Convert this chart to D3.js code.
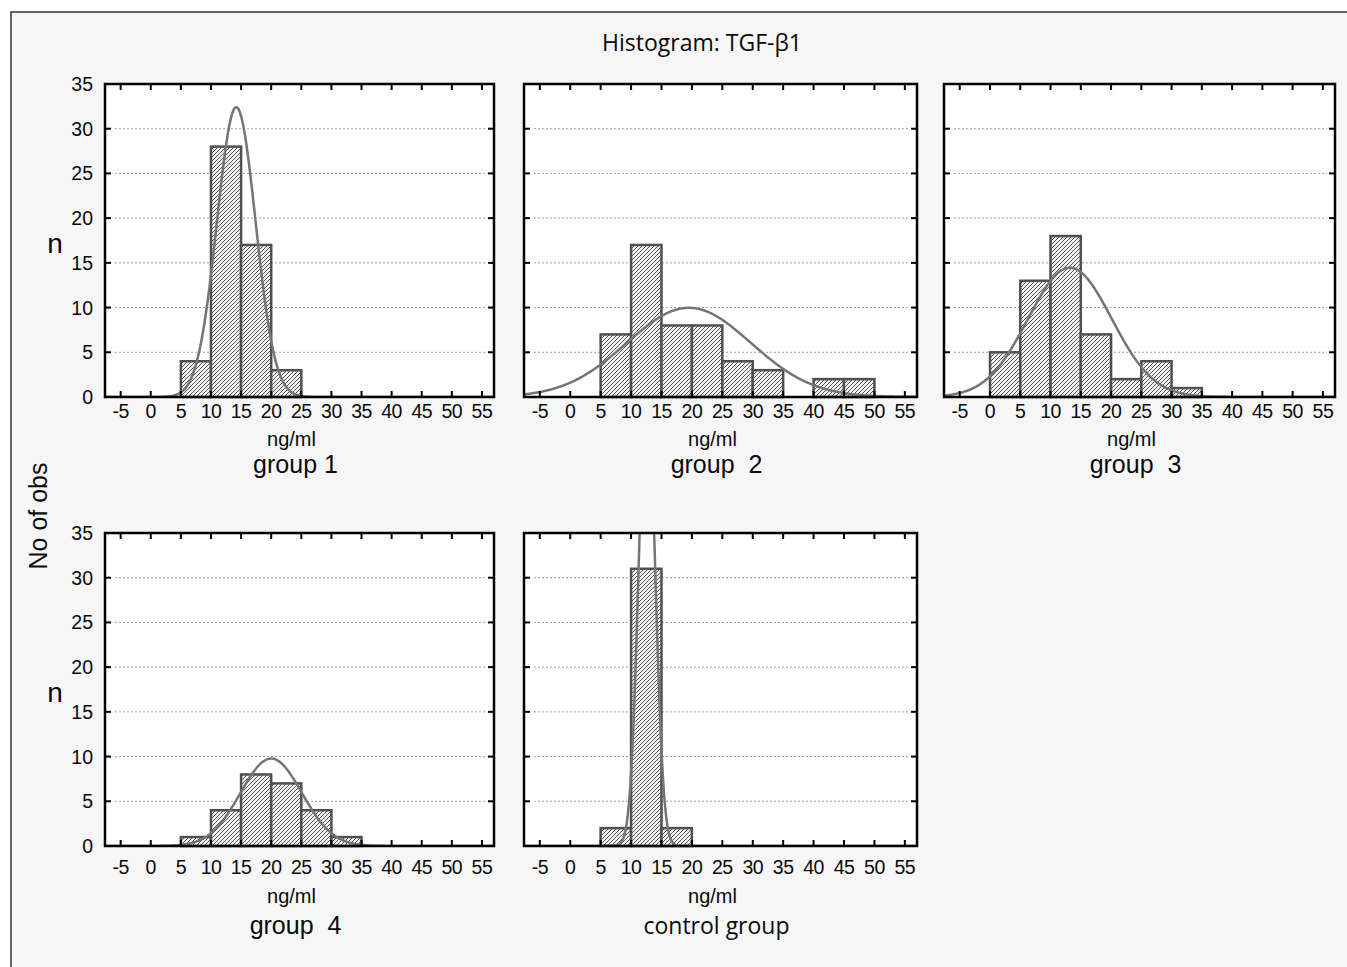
<!DOCTYPE html>
<html>
<head>
<meta charset="utf-8">
<script src="https://cdn.jsdelivr.net/npm/d3@7"></script>
<style>
  body { margin: 0; background: #fff; }
  text { fill: #0a0a0a; }
</style>
</head>
<body>
<svg id="chart" width="1347" height="967"></svg>
<script>
// histogram counts, bins are 5 ng/ml wide (lower edge listed)
const groupNames = ["group 1", "group  2", "group  3", "group  4", "control group"];

const bins1 = [5, 10, 15, 20];
const counts1 = [4, 28, 17, 3];

const bins2 = [5, 10, 15, 20, 25, 30, 40, 45];
const counts2 = [7, 17, 8, 8, 4, 3, 2, 2];

const bins3 = [0, 5, 10, 15, 20, 25, 30];
const counts3 = [5, 13, 18, 7, 2, 4, 1];

const bins4 = [5, 10, 15, 20, 25, 30];
const counts4 = [1, 4, 8, 7, 4, 1];

const binsCtrl = [5, 10, 15];
const countsCtrl = [2, 31, 2];

// fitted normal curve parameters
const fitMean = [14.2, 19.5, 13.2, 20.0, 12.6];
const fitSd = [3.2, 10.2, 6.9, 5.1, 1.35];

const xTicks = [-5, 0, 5, 10, 15, 20, 25, 30, 35, 40, 45, 50, 55];
const yTicks = [0, 5, 10, 15, 20, 25, 30, 35];
const gridValues = [5, 10, 15, 20, 25, 30];

const binWidth = 5;

const allBins = [bins1, bins2, bins3, bins4, binsCtrl];
const allCounts = [counts1, counts2, counts3, counts4, countsCtrl];

// layout
const colX = [105, 524, 944];
const colW = [389, 393, 391];
const rowY = [84, 533];
const ph = 313;
const panelPos = [[0, 0], [1, 0], [2, 0], [0, 1], [1, 1]];
// text offsets below each row (tick labels, unit, group name)
const rowText = [[21, 49, 76], [28, 57, 88]];

const svg = d3.select("#chart");

// figure background + outer frame
svg.append("rect")
    .attr("x", 11).attr("y", 12)
    .attr("width", 1347).attr("height", 967)
    .attr("fill", "#f6f6f6")
    .attr("stroke", "#333")
    .attr("stroke-width", 1.5);

// hatch pattern for bars
const defs = svg.append("defs");
const pat = defs.append("pattern")
    .attr("id", "hatch")
    .attr("patternUnits", "userSpaceOnUse")
    .attr("width", 4)
    .attr("height", 4);
pat.append("rect").attr("width", 4).attr("height", 4).attr("fill", "#f2f2f2");
pat.append("path")
    .attr("d", "M-1,1 l2,-2 M0,4 l4,-4 M3,5 l2,-2")
    .attr("stroke", "#555")
    .attr("stroke-width", 1);

svg.append("text")
    .attr("x", 702).attr("y", 51)
    .attr("text-anchor", "middle")
    .style("font-family", "'Open Sans', sans-serif")
    .style("font-size", "23px")
    .text("Histogram: TGF-\u03b21");

svg.append("text")
    .attr("transform", "translate(47, 516)rotate(-90)")
    .attr("text-anchor", "middle")
    .style("font-family", "'Liberation Sans', Arial, sans-serif")
    .style("font-size", "25px")
    .text("No of obs");

groupNames.forEach(function(name, i) {
    const col = panelPos[i][0], row = panelPos[i][1];
    const left = colX[col], top = rowY[row], pw = colW[col];

    const x = d3.scaleLinear().domain([-7.6, 57]).range([0, pw]);
    const y = d3.scaleLinear().domain([0, 35]).range([ph, 0]);

    const g = svg.append("g")
        .attr("transform", `translate(${left}, ${top})`);

    defs.append("clipPath")
        .attr("id", "clip" + i)
        .append("rect")
        .attr("width", pw).attr("height", ph);

    g.append("rect")
        .attr("width", pw).attr("height", ph)
        .attr("fill", "#fff");

    // dotted grid
    g.selectAll(".grid")
        .data(gridValues)
        .enter().append("line")
        .attr("x1", 10).attr("x2", pw - 8)
        .attr("y1", d => y(d)).attr("y2", d => y(d))
        .attr("stroke", "#a0a0a0")
        .attr("stroke-width", 1)
        .attr("stroke-dasharray", "2,2");

    // bars
    const bars = allBins[i].map((b, k) => ({ x0: b, n: allCounts[i][k] }));
    g.selectAll(".bar")
        .data(bars)
        .enter().append("rect")
        .attr("x", d => x(d.x0))
        .attr("y", d => y(d.n))
        .attr("width", d => x(d.x0 + binWidth) - x(d.x0))
        .attr("height", d => y(0) - y(d.n))
        .attr("fill", "url(#hatch)")
        .attr("stroke", "#505050")
        .attr("stroke-width", 2.5);

    // normal fit, scaled to counts
    const total = d3.sum(allCounts[i]);
    const mu = fitMean[i], sd = fitSd[i];
    const fit = v => total * binWidth / (sd * Math.sqrt(2 * Math.PI)) * Math.exp(-0.5 * ((v - mu) / sd) ** 2);
    const xs = d3.range(-7.6, 57.01, 0.1);
    const line = d3.line()
        .x(v => x(v))
        .y(v => y(fit(v)))
        .curve(d3.curveBasis);
    g.append("path")
        .datum(xs)
        .attr("d", line)
        .attr("fill", "none")
        .attr("stroke", "#757575")
        .attr("stroke-width", 2.5)
        .attr("clip-path", `url(#clip${i})`);

    // inside ticks on every side
    const tl = 6;
    xTicks.forEach(function(t) {
        g.append("line").attr("x1", x(t)).attr("x2", x(t)).attr("y1", 0).attr("y2", tl)
            .attr("stroke", "#000").attr("stroke-width", 2);
        g.append("line").attr("x1", x(t)).attr("x2", x(t)).attr("y1", ph).attr("y2", ph - tl)
            .attr("stroke", "#000").attr("stroke-width", 2);
    });
    yTicks.forEach(function(t) {
        g.append("line").attr("x1", pw).attr("x2", pw - tl).attr("y1", y(t)).attr("y2", y(t))
            .attr("stroke", "#000").attr("stroke-width", 2);
        g.append("line").attr("x1", 0).attr("x2", tl).attr("y1", y(t)).attr("y2", y(t))
            .attr("stroke", "#000").attr("stroke-width", 2);
    });

    g.append("rect")
        .attr("width", pw).attr("height", ph)
        .attr("fill", "none")
        .attr("stroke", "#000")
        .attr("stroke-width", 2.5);

    // x tick labels
    const off = rowText[row];
    g.selectAll(".xlab")
        .data(xTicks)
        .enter().append("text")
        .attr("x", d => x(d))
        .attr("y", ph + off[0])
        .attr("text-anchor", "middle")
        .style("font-family", "'Liberation Sans', Arial, sans-serif")
        .style("font-size", "19.5px")
        .style("letter-spacing", "-0.5px")
        .text(d => d);

    g.append("text")
        .attr("x", pw / 2 - 8)
        .attr("y", ph + off[1])
        .attr("text-anchor", "middle")
        .style("font-family", "'Liberation Sans', Arial, sans-serif")
        .style("font-size", "20px")
        .text("ng/ml");

    g.append("text")
        .attr("x", pw / 2 - 4)
        .attr("y", ph + off[2])
        .attr("text-anchor", "middle")
        .style("white-space", "pre")
        .style("font-family", i === 4 ? "'Open Sans', sans-serif" : "'Liberation Sans', Arial, sans-serif")
        .style("font-size", i === 4 ? "23px" : "25px")
        .text(name);

    // y labels on the left column only
    if (col === 0) {
        g.selectAll(".ylab")
            .data(yTicks)
            .enter().append("text")
            .attr("x", -12)
            .attr("y", d => y(d))
            .attr("dy", "0.36em")
            .attr("text-anchor", "end")
            .style("font-family", "'Liberation Sans', Arial, sans-serif")
            .style("font-size", "19.5px")
            .text(d => d);

        g.append("text")
            .attr("x", -50)
            .attr("y", y(17.2))
            .attr("dy", "0.36em")
            .attr("text-anchor", "middle")
            .style("font-family", "'Liberation Sans', Arial, sans-serif")
            .style("font-size", "28px")
            .text("n");
    }
});
</script>
</body>
</html>
